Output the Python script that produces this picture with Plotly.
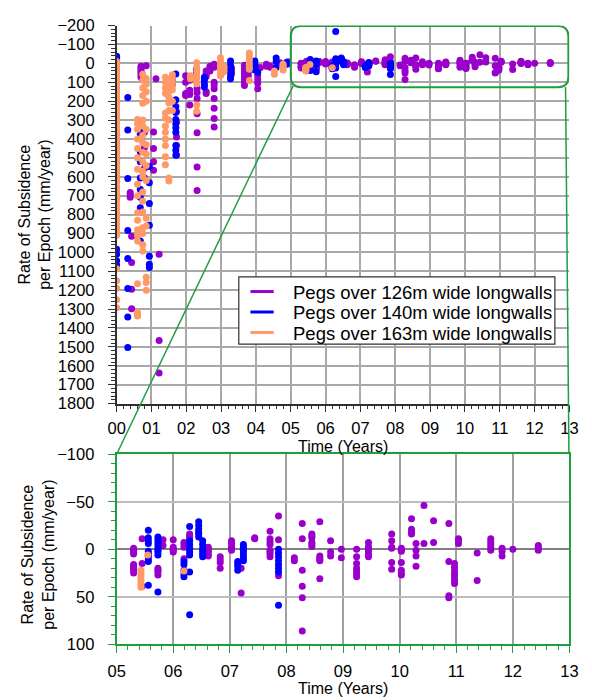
import plotly.graph_objects as go

# ---------------- data: (time in years, [rates in mm/year]) ----------------
PEGS_126 = [
    (0.00, [435, 470, 505, 570, 610, 660]),
    (0.39, [683, 695, 709]),
    (0.43, [915, 1053, 1195, 1298]),
    (0.70, [15, 25, 35, 45, 55, 65, 75]),
    (0.85, [12]),
    (0.80, [365, 445, 555, 605]),
    (1.06, [363, 450, 520, 565]),
    (1.13, [82]),
    (1.22, [1010, 1466, 1638]),
    (1.60, [70, 90, 110]),
    (1.72, [255, 310, 390, 435, 485]),
    (1.98, [65, 100, 160, 170]),
    (2.10, [90, 142, 165, 220]),
    (2.31, [133, 155, 186, 267, 367, 548, 673]),
    (2.57, [40, 55, 70, 150, 160]),
    (2.68, [15, 25, 40]),
    (2.80, [5, 20, 100, 115, 134, 186, 238, 292, 337]),
    (3.00, [25, 40, 55]),
    (3.30, [25, 40, 55]),
    (3.67, [10, 25, 40, 55, 70, 85, 100, 117]),
    (3.78, [20, 35, 50, 65]),
    (4.05, [25, 45, 65, 85, 105, 134]),
    (4.13, [22]),
    (4.30, [5, 15]),
    (4.41, [14, 20]),
    (4.69, [-3]),
    (4.92, [-8, 2]),
    (5.30, [-1, 1, 3, 5, 16, 18, 20, 22, 25]),
    (5.45, [-11, 15, 39]),
    (5.73, [20, 22, 24, 27]),
    (5.82, [-10, -4]),
    (6.00, [-10, -2, 0, 1, 3]),
    (6.19, [-7, -5, -2, 10]),
    (6.29, [-16, -14, -12, 0]),
    (6.62, [-2, 0, 2, 5, 7]),
    (6.83, [8, 11, 14, 20]),
    (7.03, [-9, -6, -3, -1, 1]),
    (7.20, [20, 46]),
    (7.44, [-12, -11]),
    (7.71, [-19, -11, -8, -5, 1, 3, 5, 8]),
    (7.86, [-35, -10, 28]),
    (8.14, [9, 12]),
    (8.28, [-27, -11, 22, 39, 51, 86]),
    (8.45, [-16, -14, -12, -7, -5, -3]),
    (8.59, [-29, 7, 9, 11, 12, 31]),
    (8.78, [-9, 3, 7]),
    (8.97, [0, 9]),
    (9.24, [0, 8, 15, 20, 23, 26, 29]),
    (9.45, [-7, -3, 0, 2, 5, 8]),
    (9.86, [-16, -9, -2, -1, 14, 21]),
    (10.03, [-1, 1, 2, 14, 22, 25, 27]),
    (10.21, [-32, -21, -18, -16]),
    (10.29, [-6, 1, 7, 18]),
    (10.43, [-46, -6]),
    (10.60, [-30, -7]),
    (10.87, [-27, 13, 49, 51]),
    (10.97, [15, 19, 23, 26, 29, 33, 36]),
    (11.04, [-11, -9, -6]),
    (11.37, [4, 33]),
    (11.61, [-11, -8, -5, -2, 1]),
    (11.81, [-1, 2, 7]),
    (12.00, [0]),
    (12.45, [-4, -2, 1]),
]

PEGS_140 = [
    (0.00, [-38, -30, -21, 202, 382, 417, 520, 623, 709, 984, 1010, 1044, 1067]),
    (0.32, [180, 352, 609, 884, 1033, 1191, 1342, 1503]),
    (0.68, [340, 375, 468, 520, 606, 666, 709, 764, 940]),
    (0.94, [546, 631, 742, 857, 1020, 1063, 1080]),
    (1.70, [56, 193, 228, 260, 297, 320, 340, 365, 434, 460, 486]),
    (2.29, [30, 45, 56]),
    (2.52, [73, 90, 110, 125]),
    (3.27, [-12, 10, 30, 50, 70, 82]),
    (3.97, [-12, 5, 20, 35]),
    (4.05, [48]),
    (4.58, [-29, -10, 22]),
    (4.88, [-5, 5]),
    (5.56, [-20, -12, -9, -6, 2, 5, 8, 11, 13, 38]),
    (5.73, [-13, -10, -7, -4, -1, 1, 3, 6, 45]),
    (6.19, [13, 16, 22, 26, 29]),
    (6.29, [-168, -24, -9, -5, -1, 3, 6, 24, 69]),
    (6.45, [-29, -25, -21, -18, -16, -13]),
    (6.52, [-9, -5, -1, 2, 5, 8]),
    (7.14, [13, 15, 18, 22]),
    (7.24, [-5, -2, 1, 4, 7, 10, 12]),
    (7.86, [0, 4, 8, 12, 16, 20, 24, 59]),
]

PEGS_163 = [
    (0.00, [-10, 0, 10, 20, 30, 45, 60, 75, 90, 100, 115, 130, 145, 160, 175,
            190, 205, 220, 240, 255, 270, 290, 305, 320, 340, 355, 370, 390,
            410, 430, 450, 470, 490, 510, 530, 550, 570, 590, 610, 630, 650,
            670, 690, 710, 730, 750, 770, 790, 810, 830, 850, 870, 890, 910,
            1087, 1150, 1190, 1250, 1293]),
    (0.60, [297, 320, 348, 400, 450, 500, 560, 640, 700, 790, 830, 880, 910,
            940, 1166, 1320, 1330, 1337]),
    (0.75, [57, 90, 130, 170, 211, 300, 331, 380, 420, 470, 520, 571, 600,
            680, 730, 786, 870, 900, 960, 993]),
    (0.85, [80, 110, 150, 200, 350, 430, 480, 540, 620, 820, 860, 1131, 1160,
            1200]),
    (1.40, [74, 100, 130, 160, 262, 290, 331, 365, 400, 434, 494, 537]),
    (1.50, [90, 120, 150, 180, 210, 250, 300, 606, 623]),
    (1.60, [60, 80, 100, 120, 140, 200, 250]),
    (2.12, [65, 82]),
    (2.30, [-3, 20, 40, 60, 80, 108, 220, 254]),
    (2.98, [-30, -10, 10, 30, 50, 65]),
    (3.08, [15, 25, 35, 45]),
    (3.81, [-55, -40, -25, -10, 5, 20, 31, 91]),
    (4.53, [40, 57]),
    (4.78, [5, 15, 25, 35]),
    (5.43, [22, 25, 28, 31, 34, 37, 40]),
    (5.55, [6]),
    (6.19, [23]),
]

SERIES_NAMES = ["Pegs over 126m wide longwalls",
                "Pegs over 140m wide longwalls",
                "Pegs over 163m wide longwalls"]
SERIES_COLORS = ["#9900CC", "#0000FF", "#FF9966"]
SERIES_DATA = [PEGS_126, PEGS_140, PEGS_163]

TOP_YTICKS = list(range(-200, 1801, 100))
BOTTOM_YTICKS = [-100, -50, 0, 50, 100]

# ---------------- figure ----------------
W, H = 592, 700
FONT = "Liberation Sans, Arial, sans-serif"
GREEN = "#1E9E3E"


def px(x):
    return x / W


def py(y):
    return 1 - y / H


X_DOM = [px(111), px(578)]

fig = go.Figure()

for name, color, groups in zip(SERIES_NAMES, SERIES_COLORS, SERIES_DATA):
    xs, ys = [], []
    for t, vals in groups:
        for v in vals:
            xs.append(t)
            ys.append(v)
    for xa, ya in (("x", "y"), ("x2", "y2")):
        fig.add_trace(go.Scatter(
            x=xs, y=ys, xaxis=xa, yaxis=ya, mode="markers", name=name,
            legendgroup=name,
            marker=dict(color=color, size=7, line=dict(width=0)),
            showlegend=False, hoverinfo="skip", cliponaxis=True))

tickfont = dict(family=FONT, size=16.5, color="#000")
top_grid = "#A8A8A8"

fig.update_layout(
    width=W, height=H,
    margin=dict(l=0, r=0, t=0, b=0),
    paper_bgcolor="white", plot_bgcolor="white",
    font=dict(family=FONT, size=16, color="#000"),
    showlegend=False,
    xaxis=dict(
        domain=X_DOM, anchor="y", range=[0, 13], tick0=0, dtick=1,
        tickformat="02d", tickfont=tickfont,
        showgrid=True, gridcolor=top_grid, gridwidth=1.5,
        showline=True, linecolor="#303030", linewidth=1.5,
        ticks="outside", ticklen=7, tickcolor="#303030",
        minor=dict(dtick=0.2, ticks="outside", ticklen=4, tickcolor="#303030",
                   showgrid=False),
        zeroline=False, ticklabelstandoff=2,
    ),
    yaxis=dict(
        domain=[py(405), py(17)], anchor="x", range=[1800, -200],
        tickvals=TOP_YTICKS, tickfont=tickfont,
        showgrid=True, gridcolor=top_grid, gridwidth=1.5,
        showline=True, linecolor="#303030", linewidth=1.5,
        ticks="outside", ticklen=7, tickcolor="#303030",
        minor=dict(dtick=20, ticks="outside", ticklen=4, tickcolor="#303030",
                   showgrid=False),
        zeroline=False, ticklabelstandoff=10,
    ),
    xaxis2=dict(
        domain=X_DOM, anchor="y2", range=[5, 13], tick0=5, dtick=1,
        tickformat="02d", tickfont=tickfont,
        showgrid=True, gridcolor="#A0A0A0", gridwidth=1.5,
        showline=True, linecolor=GREEN, linewidth=2, mirror=True,
        ticks="outside", ticklen=7, tickcolor=GREEN,
        minor=dict(dtick=0.2, ticks="outside", ticklen=4, tickcolor=GREEN,
                   showgrid=False),
        zeroline=False, ticklabelstandoff=4,
    ),
    yaxis2=dict(
        domain=[py(652), py(457)], anchor="x2", range=[100, -100],
        tickvals=BOTTOM_YTICKS, tickfont=tickfont,
        showgrid=True, gridcolor="#BDBDBD", gridwidth=2,
        showline=True, linecolor=GREEN, linewidth=2, mirror=True,
        ticks="outside", ticklen=7, tickcolor=GREEN,
        minor=dict(dtick=10, ticks="outside", ticklen=4, tickcolor=GREEN,
                   showgrid=False),
        zeroline=True, zerolinecolor="#808080", zerolinewidth=1.5,
        ticklabelstandoff=10,
    ),
)

annotations = [
    dict(text="Time (Years)", x=px(344), y=py(449), xref="paper", yref="paper",
         showarrow=False, font=dict(size=16), xanchor="center", yanchor="middle"),
    dict(text="Time (Years)", x=px(344), y=py(697), xref="paper", yref="paper",
         showarrow=False, font=dict(size=16), xanchor="center", yanchor="middle"),
    dict(text="Rate of Subsidence<br>per Epoch (mm/year)", x=px(26), y=py(211),
         xref="paper", yref="paper", showarrow=False, textangle=-90,
         font=dict(size=16), xanchor="center", yanchor="middle"),
    dict(text="Rate of Subsidence<br>per Epoch (mm/year)", x=px(30), y=py(560),
         xref="paper", yref="paper", showarrow=False, textangle=-90,
         font=dict(size=16), xanchor="center", yanchor="middle"),
]

# legend drawn as a boxed key inside the top chart
LEG_X0, LEG_Y0, LEG_X1, LEG_Y1 = 237, 275, 563, 344
LEG_ROWS = [290, 311, 332]
shapes = [
    dict(type="rect", xref="paper", yref="paper",
         x0=px(LEG_X0), y0=py(LEG_Y0), x1=px(LEG_X1), y1=py(LEG_Y1),
         fillcolor="white", line=dict(color="#303030", width=1.2),
         layer="above"),
]
for name, color, ry_ in zip(SERIES_NAMES, SERIES_COLORS, LEG_ROWS):
    shapes.append(dict(type="line", xref="paper", yref="paper",
                       x0=px(249), x1=px(273), y0=py(ry_), y1=py(ry_),
                       line=dict(color=color, width=3), layer="above"))
    annotations.append(dict(text=name, x=px(291), y=py(ry_ + 1), xref="paper",
                            yref="paper", showarrow=False, xanchor="left",
                            yanchor="middle", font=dict(size=18.5)))

fig.update_layout(annotations=annotations)

# rounded zoom box in the top chart (data coords of top axes)
bx0, bx1, by0, by1 = 5.0, 12.97, -198, 126
rx, ry = 0.3, 55
path = (f"M {bx0+rx},{by0} L {bx1-rx},{by0} Q {bx1},{by0} {bx1},{by0+ry} "
        f"L {bx1},{by1-ry} Q {bx1},{by1} {bx1-rx},{by1} L {bx0+rx},{by1} "
        f"Q {bx0},{by1} {bx0},{by1-ry} L {bx0},{by0+ry} Q {bx0},{by0} {bx0+rx},{by0} Z")
shapes += [
    dict(type="path", path=path, xref="x", yref="y",
         line=dict(color=GREEN, width=2), layer="above"),
    dict(type="line", xref="paper", yref="paper",
         x0=px(293), y0=py(79), x1=px(111), y1=py(457),
         line=dict(color=GREEN, width=1.5)),
    dict(type="line", xref="paper", yref="paper",
         x0=px(574), y0=py(80), x1=px(577.5), y1=py(457),
         line=dict(color=GREEN, width=1.5)),
]
fig.update_layout(shapes=shapes)

fig.write_html("out.html")
